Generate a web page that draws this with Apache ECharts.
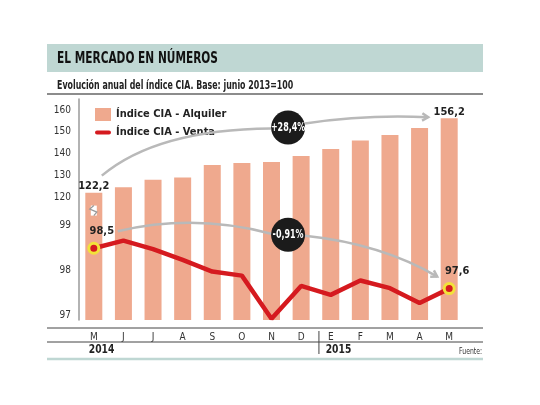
<!DOCTYPE html>
<html>
<head>
<meta charset="utf-8">
<script src="https://cdn.jsdelivr.net/npm/echarts@6/dist/echarts.min.js"></script>
<style>html,body{margin:0;padding:0;background:#fff}#c{width:540px;height:405px}</style>
</head>
<body>
<div id="c"></div>
<script>
const months = ['M','J','J','A','S','O','N','D','E','F','M','A','M'];
const years = ['2014','2015'];
const yearStart = [0, 8];
const alquiler = [122.2,124.7,128.1,129.1,134.8,135.7,136.2,139.0,142.1,146.0,148.6,151.7,156.2];
const venta = [98.5,98.67,98.48,98.24,97.98,97.89,96.93,97.66,97.46,97.78,97.61,97.28,97.6];
const alquilerTicks = [120,130,140,150,160];
const ventaTicks = [97,98,99];
const nameAlquiler = 'Índice CIA - Alquiler';
const nameVenta = 'Índice CIA - Venta';
const changeAlquiler = '+28,4%';
const changeVenta = '-0,91%';
const title = 'EL MERCADO EN NÚMEROS';
const subtitle = 'Evolución anual del índice CIA. Base: junio 2013=100';
const source = 'Fuente:';

const FN = '"Liberation Sans Narrow", "DejaVu Sans Condensed", "Arial Narrow", sans-serif';
const fmt = v => v.toFixed(1).replace('.', ',');
const last = alquiler.length - 1;
const RED = '#d51a1f';

const chart = echarts.init(document.getElementById('c'), null, {renderer: 'canvas'});
chart.setOption({
  animation: false,
  grid: {left: 79, right: 76, top: 99, bottom: 85},
  legend: {
    left: 90, top: 103, orient: 'vertical', itemWidth: 16, itemHeight: 13, itemGap: 6,
    textStyle: {fontFamily: FN, fontWeight: 'bold', fontSize: 11, color: '#222'},
    data: [
      {name: nameAlquiler, icon: 'rect'},
      {name: nameVenta, icon: 'path://M4,0h24a4,4 0 0 1 0,8h-24a4,4 0 0 1 0,-8z', itemStyle: {color: RED, borderWidth: 0}}
    ]
  },
  xAxis: {
    type: 'category', data: months,
    axisLine: {show: false}, axisTick: {show: false},
    axisLabel: {margin: 12, fontFamily: FN, fontSize: 10, color: '#333'}
  },
  yAxis: [
    {
      type: 'value', min: 64, max: 165,
      axisLine: {show: true, lineStyle: {color: '#9a9a9a', width: 1.5}},
      axisTick: {show: false}, splitLine: {show: false},
      axisLabel: {customValues: alquilerTicks, margin: 8, fontFamily: FN, fontSize: 10, color: '#333'}
    },
    {
      type: 'value', position: 'left', min: 96.9, max: 101.83,
      axisLine: {show: false}, axisTick: {show: false}, splitLine: {show: false},
      axisLabel: {customValues: ventaTicks, margin: 8, fontFamily: FN, fontSize: 10, color: '#333'}
    }
  ],
  series: [
    {
      name: nameAlquiler, type: 'bar', data: alquiler, yAxisIndex: 0, barWidth: 17,
      itemStyle: {color: '#efa98e'},
      label: {
        show: true, position: 'top', distance: 1,
        fontFamily: FN, fontWeight: 'bold', fontSize: 11, color: '#222',
        formatter: p => (p.dataIndex === 0 || p.dataIndex === last) ? fmt(p.value) : ''
      }
    },
    {
      name: nameVenta, type: 'line', data: venta, yAxisIndex: 1,
      lineStyle: {color: RED, width: 4.5},
      itemStyle: {color: RED, borderColor: '#f2e23a', borderWidth: 3},
      symbol: 'circle',
      symbolSize: (v, p) => (p.dataIndex === 0 || p.dataIndex === last) ? 10 : 0,
      label: {
        show: true, position: 'top', distance: 5, offset: [8, 0],
        fontFamily: FN, fontWeight: 'bold', fontSize: 11, color: '#222',
        formatter: p => (p.dataIndex === 0 || p.dataIndex === last) ? fmt(p.value) : ''
      },
      z: 5
    }
  ]
});

const bp = (i, v) => chart.convertToPixel({xAxisIndex: 0, yAxisIndex: 0}, [i, v]);
const lp = (i, v) => chart.convertToPixel({xAxisIndex: 0, yAxisIndex: 1}, [i, v]);

const pA0 = bp(0, alquiler[0]), pAn = bp(last, alquiler[last]);
const pV0 = lp(0, venta[0]), pVn = lp(last, venta[last]);
const x6 = bp(6, 0)[0], x7 = bp(7, 0)[0];
const cx = x6 + 0.56 * (x7 - x6);
const c1 = [cx, bp(0, 152)[1]];
const c2 = [cx, lp(0, 98.8)[1]];
const R = 17;
const grey = '#b9b9b9';
const SX = 0.74;

function arrowHead(tip, from, len) {
  const a = Math.atan2(tip[1] - from[1], tip[0] - from[0]);
  const s = 0.55;
  return {
    type: 'polyline', z: 20,
    shape: {points: [
      [tip[0] - len * Math.cos(a - s), tip[1] - len * Math.sin(a - s)],
      tip,
      [tip[0] - len * Math.cos(a + s), tip[1] - len * Math.sin(a + s)]
    ]},
    style: {stroke: grey, lineWidth: 2.5, fill: null}
  };
}

const breakY = bp(0, 114)[1];
const axX = bp(0, 0)[0];
const xMid78 = (bp(7, 0)[0] + bp(8, 0)[0]) / 2 + 3;

const up1s = [pA0[0] + 8, pA0[1] - 17], up1e = [c1[0] - R, c1[1] + 1];
const up2s = [c1[0] + R, c1[1] - 4], up2e = [pAn[0] - 21, pAn[1] - 1];
const lo1s = [pV0[0] + 24, pV0[1] - 17], lo1e = [c2[0] - R, c2[1] - 1];
const lo2s = [c2[0] + R, c2[1] + 1], lo2e = [pVn[0] - 12, pVn[1] - 12];

const graphics = [
  {type: 'rect', shape: {x: 47, y: 44, width: 436, height: 28}, style: {fill: '#bfd7d3'}, z: 0},
  {type: 'text', x: 57, y: 59, scaleX: 0.76, style: {text: title, fontFamily: FN, fontWeight: 'bold', fontSize: 15.5, fill: '#111', verticalAlign: 'middle'}, z: 10},
  {type: 'text', x: 57, y: 86, scaleX: 0.73, style: {text: subtitle, fontFamily: FN, fontWeight: 'bold', fontSize: 12, fill: '#222', verticalAlign: 'middle'}, z: 10},
  {type: 'line', shape: {x1: 47, y1: 94, x2: 483, y2: 94}, style: {stroke: '#666', lineWidth: 1.5}, z: 10},
  {type: 'line', shape: {x1: 47, y1: 328, x2: 483, y2: 328}, style: {stroke: '#444', lineWidth: 1}, z: 10},
  {type: 'line', shape: {x1: 47, y1: 342, x2: 483, y2: 342}, style: {stroke: '#444', lineWidth: 1}, z: 10},
  {type: 'line', shape: {x1: xMid78, y1: 331, x2: xMid78, y2: 354}, style: {stroke: '#444', lineWidth: 1}, z: 10},
  {type: 'line', shape: {x1: 47, y1: 359, x2: 483, y2: 359}, style: {stroke: '#bfd7d3', lineWidth: 2.5}, z: 10},
  {type: 'text', x: 482, y: 352, scaleX: 0.85, style: {text: source, fontFamily: FN, fontSize: 8, fill: '#333', align: 'right', verticalAlign: 'middle'}, z: 10},
  {type: 'rect', shape: {x: axX - 3, y: breakY - 5, width: 6, height: 10}, style: {fill: '#fff'}, z: 10},
  {type: 'polyline', shape: {points: [[axX, breakY - 5], [axX - 4, breakY - 1.5], [axX + 3, breakY + 1.5], [axX, breakY + 5]]}, style: {stroke: '#9a9a9a', lineWidth: 1.3, fill: null}, z: 11},
  {type: 'bezierCurve', shape: {x1: up1s[0], y1: up1s[1], x2: up1e[0], y2: up1e[1], cpx1: up1s[0] + 55, cpy1: c1[1] + 2}, style: {stroke: grey, lineWidth: 2.5, fill: null}, z: 20},
  {type: 'bezierCurve', shape: {x1: up2s[0], y1: up2s[1], x2: up2e[0], y2: up2e[1], cpx1: (up2s[0] + up2e[0]) / 2, cpy1: up2e[1] - 3}, style: {stroke: grey, lineWidth: 2.5, fill: null}, z: 20},
  arrowHead(up2e, [(up2s[0] + up2e[0]) / 2, up2e[1] - 3], 7),
  {type: 'bezierCurve', shape: {x1: lo1s[0], y1: lo1s[1], x2: lo1e[0], y2: lo1e[1], cpx1: (lo1s[0] + lo1e[0]) / 2, cpy1: lo1s[1] - 18}, style: {stroke: grey, lineWidth: 2.5, fill: null}, z: 20},
  {type: 'bezierCurve', shape: {x1: lo2s[0], y1: lo2s[1], x2: lo2e[0], y2: lo2e[1], cpx1: lo2e[0] - 56, cpy1: lo2s[1] + 8}, style: {stroke: grey, lineWidth: 2.5, fill: null}, z: 20},
  arrowHead(lo2e, [lo2e[0] - 56, lo2s[1] + 8], 7),
  {type: 'circle', shape: {cx: c1[0], cy: c1[1], r: R}, style: {fill: '#1b1b1b'}, z: 30},
  {type: 'text', x: c1[0], y: c1[1], scaleX: SX, style: {text: changeAlquiler, fontFamily: FN, fontWeight: 'bold', fontSize: 12, fill: '#fff', align: 'center', verticalAlign: 'middle'}, z: 31},
  {type: 'circle', shape: {cx: c2[0], cy: c2[1], r: R}, style: {fill: '#1b1b1b'}, z: 30},
  {type: 'text', x: c2[0], y: c2[1], scaleX: SX, style: {text: changeVenta, fontFamily: FN, fontWeight: 'bold', fontSize: 12, fill: '#fff', align: 'center', verticalAlign: 'middle'}, z: 31}
];
years.forEach((y, k) => {
  graphics.push({type: 'text', x: bp(yearStart[k], 0)[0] - 5, y: 350, scaleX: 0.85, style: {text: y, fontFamily: FN, fontWeight: 'bold', fontSize: 12, fill: '#222', verticalAlign: 'middle'}, z: 10});
});
chart.setOption({graphic: graphics});
</script>
</body>
</html>
